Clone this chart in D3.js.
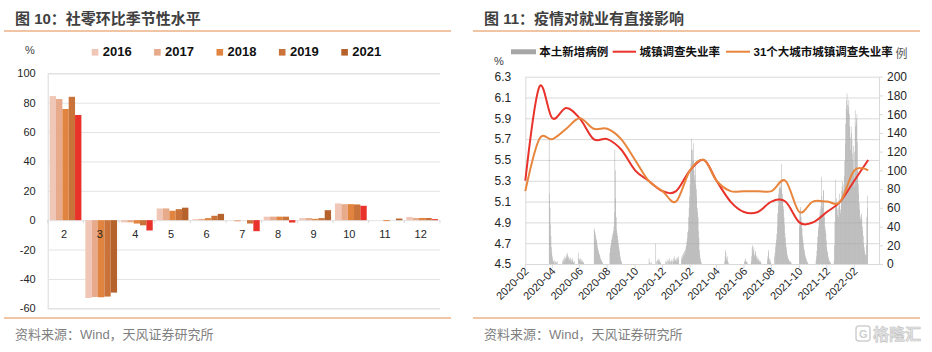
<!DOCTYPE html>
<html>
<head>
<meta charset="utf-8">
<script src="https://cdn.jsdelivr.net/npm/d3@7"></script>
<style>
  body { margin: 0; background: #fff; }
  svg text { font-family: "Liberation Sans", Arial, "Noto Sans CJK SC", sans-serif; }
</style>
</head>
<body>
<svg id="chart" width="932" height="352"></svg>
<script>
// ---------- left panel data (社零环比季节性水平) ----------
var months = ["2", "3", "4", "5", "6", "7", "8", "9", "10", "11", "12"];
var years = ["2016", "2017", "2018", "2019", "2021"];
var s2016 = [84.5, -53.0, -1.5, 8.0, 0.7, 0.0, 2.4, 1.4, 11.4, 0.0, 2.2];
var s2017 = [82.5, -52.3, -1.5, 8.0, 0.9, -0.8, 2.4, 1.4, 10.9, 0.0, 1.5];
var s2018 = [75.7, -52.5, -2.3, 6.4, 1.4, 0.0, 2.4, 0.9, 10.9, -0.6, 1.5];
var s2019 = [84.0, -52.0, -3.5, 7.5, 3.0, -2.3, 2.4, 1.4, 10.7, 0.0, 1.5];
var s2021 = [71.6, -49.3, -7.0, 8.5, 4.3, -7.5, -1.6, 6.8, 9.8, 1.1, 0.7];
var leftTicks = [-60, -40, -20, 0, 20, 40, 60, 80, 100];

// ---------- right panel data (疫情对就业有直接影响) ----------
var rateStart = "2020-01";
var urbanRate = [5.3, 6.2, 5.9, 6.0, 5.9, 5.7, 5.7, 5.6, 5.4, 5.3, 5.2, 5.2,
                 5.4, 5.5, 5.3, 5.1, 5.0, 5.0, 5.1, 5.1, 4.9, 4.9, 5.0, 5.1,
                 5.3, 5.5];
var city31Rate = [5.2, 5.7, 5.7, 5.8, 5.9, 5.8, 5.8, 5.7, 5.5, 5.3, 5.2, 5.1,
                  5.4, 5.5, 5.3, 5.2, 5.2, 5.2, 5.2, 5.3, 5.0, 5.1, 5.1, 5.1,
                  5.4, 5.4];
// daily local new cases, one run of days per wave
var caseWaves = [
  {start: "2020-02-23", v: [134, 75, 60, 42, 30, 18, 12, 8, 5, 3, 2, 4, 0, 2, 3, 0, 1, 2, 0, 3]},
  {start: "2020-03-24", v: [3, 5, 2, 6, 4, 8, 5, 7, 10, 6, 12, 9, 7, 8, 5, 6, 4, 7, 3, 5, 2, 4, 6, 3, 2, 1, 3]},
  {start: "2020-04-28", v: [12, 6, 5, 4, 6, 3, 5, 2, 4, 3, 2, 1, 2]},
  {start: "2020-06-02", v: [38, 36, 34, 31, 28, 26, 24, 20, 17, 15, 13, 11, 10, 8, 6, 5, 4, 3, 2, 1]},
  {start: "2020-07-07", v: [12, 17, 20, 22, 26, 28, 31, 33, 35, 40, 55, 122, 100, 70, 50, 37, 33, 30, 26, 22, 18, 15, 12, 8, 5, 3, 2]},
  {start: "2020-10-02", v: [6, 2, 0, 1, 0, 0, 2, 0, 0, 0, 0, 0, 0, 0, 0, 22, 3, 0, 0, 4, 5, 3, 6, 2, 4, 1, 2]},
  {start: "2020-11-08", v: [3, 0, 2, 5, 0, 3, 4, 0, 2, 6, 3, 0, 4, 2, 5, 0, 3, 6, 2, 4, 8, 3, 5, 4, 6, 2, 7, 5, 8, 4]},
  {start: "2020-12-13", v: [5, 8, 6, 10, 8, 12, 10, 14, 12, 15, 18, 20, 24, 28, 34, 36, 50, 60, 72, 85, 100, 107, 134, 122, 122,
                            110, 110, 129, 100, 90, 95, 107, 85, 72, 80, 60, 55, 50, 35, 28, 15, 10, 6, 3, 2]},
  {start: "2021-03-19", v: [3, 8, 15, 12, 6, 4, 8, 3, 2]},
  {start: "2021-05-02", v: [2, 4, 6, 3, 2, 3, 2]},
  {start: "2021-05-17", v: [3, 8, 18, 20, 12, 15, 18, 10, 8, 14, 12, 9, 6, 8, 5, 4, 6, 3, 2, 4, 2, 3, 1]},
  {start: "2021-06-22", v: [4, 8, 15, 12, 6, 3, 5, 2, 1]},
  {start: "2021-07-08", v: [8, 12, 18, 22, 26, 32, 40, 54, 62, 75, 80, 82, 85, 82, 80, 90, 107, 75, 70, 62, 58, 50, 42, 33, 28,
                            22, 18, 14, 10, 8, 6, 5, 4, 3, 2, 3, 2, 1]},
  {start: "2021-09-01", v: [40, 54, 61, 58, 50, 43, 38, 30, 26, 22, 18, 15, 12, 9, 7, 6, 4, 3, 2, 1]},
  {start: "2021-10-08", v: [4, 8, 14, 22, 29, 36, 40, 47, 52, 58, 54, 62, 93, 72, 68, 60, 79, 78, 55, 50, 40, 36, 33, 25, 18,
                            14, 12, 8, 6, 4, 3, 2, 2, 1]},
  {start: "2021-11-17", v: [3, 20, 45, 61, 90, 70, 65, 58, 52, 60, 50, 68, 75, 62, 58, 54, 70, 78, 83, 88, 80, 75, 85, 94, 110,
                            129, 150, 166, 175, 182, 170, 163, 168, 175, 160, 147, 135, 122, 147, 140, 132, 118, 111, 126, 100,
                            83, 120, 164, 147, 150, 155, 160, 130, 100, 85, 75, 65, 58, 50, 47, 52, 54, 48, 40, 35,
                            30, 22, 18, 14, 11, 10, 8, 20, 50, 73, 60]}
];
var xTickLabels = ["2020-02", "2020-04", "2020-06", "2020-08", "2020-10", "2020-12", "2021-02",
                   "2021-04", "2021-06", "2021-08", "2021-10", "2021-12", "2022-02"];
var rateTicks = [4.5, 4.7, 4.9, 5.1, 5.3, 5.5, 5.7, 5.9, 6.1, 6.3];
var caseTicks = [0, 20, 40, 60, 80, 100, 120, 140, 160, 180, 200];
var rightLegend = ["本土新增病例", "城镇调查失业率", "31个大城市城镇调查失业率"];

var svg = d3.select("#chart");
var gridColor = "#d9d9d9";
var orangeRule = "#e38b48";

// headers and footers
function panelFrame(x0, x1, title) {
  svg.append("text").attr("x", x0 + 11).attr("y", 23.5)
    .attr("font-size", 15).attr("font-weight", "bold").attr("fill", "#404040").text(title);
  svg.append("line").attr("x1", x0).attr("x2", x1).attr("y1", 31).attr("y2", 31)
    .attr("stroke", orangeRule).attr("stroke-width", 1.2);
  svg.append("line").attr("x1", x0).attr("x2", x1).attr("y1", 318).attr("y2", 318)
    .attr("stroke", orangeRule).attr("stroke-width", 1.2);
  svg.append("text").attr("x", x0 + 11).attr("y", 338.5)
    .attr("font-size", 13).attr("fill", "#7f7f7f").text("资料来源：Wind，天风证券研究所");
}
panelFrame(4, 451, "图 10：社零环比季节性水平");
panelFrame(473, 920, "图 11：疫情对就业有直接影响");

// ================= left panel =================
var series = [s2016, s2017, s2018, s2019, s2021];
var barColors = ["#f0c7b7", "#e7aa8b", "#e0843f", "#c9733a", "#b5622c"];
var weakColor = "#e8322a"; // 2021 below 2019

var x0 = d3.scaleBand().domain(months).range([47.7, 440]);
var x1 = d3.scaleBand().domain(years).range([0, x0.bandwidth()]).paddingOuter(0.31);
var yL = d3.scaleLinear().domain([-60, 100]).range([308.3, 73.3]);

var lg = svg.append("g");
lg.append("g").attr("transform", "translate(47.7,0)")
  .call(d3.axisLeft(yL).tickValues(leftTicks).tickSize(-(440 - 47.7)).tickPadding(12)
    .tickFormat(function (d) { return String(d); }))
  .call(function (g) {
    g.select(".domain").attr("stroke", gridColor);
    g.selectAll(".tick line").attr("stroke", "#e3e3e3");
    g.selectAll(".tick text").attr("font-size", 11).attr("fill", "#262626")
      .attr("font-family", "Liberation Sans, Arial, sans-serif");
  });

// small ticks under the zero line
lg.selectAll("line.cat").data(months.concat(["end"])).enter().append("line")
  .attr("x1", function (d) { return d === "end" ? 440 : x0(d); })
  .attr("x2", function (d) { return d === "end" ? 440 : x0(d); })
  .attr("y1", yL(0)).attr("y2", yL(0) + 3).attr("stroke", gridColor);

var groups = lg.selectAll("g.month").data(months).enter().append("g")
  .attr("transform", function (m) { return "translate(" + x0(m) + ",0)"; });
groups.selectAll("rect").data(function (m, i) {
  return years.map(function (yr, k) { return {yr: yr, k: k, i: i, v: series[k][i]}; });
}).enter().append("rect")
  .attr("x", function (d) { return x1(d.yr); })
  .attr("width", x1.bandwidth())
  .attr("y", function (d) { return yL(Math.max(0, d.v)); })
  .attr("height", function (d) { return Math.abs(yL(d.v) - yL(0)); })
  .attr("fill", function (d) {
    if (d.k === 4 && s2021[d.i] < s2019[d.i]) return weakColor;
    return barColors[d.k];
  });

groups.append("text").attr("x", x0.bandwidth() / 2 - 1.5).attr("y", 237.5)
  .attr("text-anchor", "middle").attr("font-size", 11).attr("fill", "#262626")
  .text(function (m) { return m; });

lg.append("text").attr("x", 25).attr("y", 54).attr("font-size", 11).attr("fill", "#404040").text("%");
var leg = lg.selectAll("g.leg").data(years).enter().append("g")
  .attr("transform", function (d, i) { return "translate(" + (91.7 + i * 62.4) + ",0)"; });
leg.append("rect").attr("y", 49).attr("width", 6.6).attr("height", 6.6)
  .attr("fill", function (d, i) { return barColors[i]; });
leg.append("text").attr("x", 11).attr("y", 56).attr("font-size", 13).attr("font-weight", "bold")
  .attr("fill", "#111").text(function (d) { return d; });

// ================= right panel =================
var parseDay = d3.timeParse("%Y-%m-%d");
var t0 = d3.timeParse("%Y-%m")(rateStart);
var x = d3.scaleTime().domain([t0, parseDay("2022-02-25")]).range([525.3, 879]);
var yRate = d3.scaleLinear().domain([4.5, 6.3]).range([264, 76.7]);
var yCase = d3.scaleLinear().domain([0, 200]).range([264, 76.7]);

var rg = svg.append("g");
rg.append("g").attr("transform", "translate(525.3,0)")
  .call(d3.axisLeft(yRate).tickValues(rateTicks).tickFormat(d3.format(".1f"))
    .tickSizeInner(-(879 - 525.3)).tickSizeOuter(0).tickPadding(14))
  .call(function (g) {
    g.select(".domain").attr("stroke", gridColor);
    g.selectAll(".tick line").attr("stroke", gridColor);
    g.selectAll(".tick text").attr("font-size", 12).attr("fill", "#262626")
      .attr("font-family", "Liberation Sans, Arial, sans-serif");
  });
rg.append("g").attr("transform", "translate(879,0)")
  .call(d3.axisRight(yCase).tickValues(caseTicks).tickSizeInner(4).tickSizeOuter(0).tickPadding(4))
  .call(function (g) {
    g.select(".domain").attr("stroke", gridColor);
    g.selectAll(".tick line").attr("stroke", gridColor);
    g.selectAll(".tick text").attr("font-size", 12).attr("fill", "#262626")
      .attr("font-family", "Liberation Sans, Arial, sans-serif");
  });

// x ticks and rotated labels
var tickDates = xTickLabels.map(function (d, i) { return d3.timeMonth.offset(t0, 2 * i); });
var xt = rg.selectAll("g.xt").data(tickDates).enter().append("g")
  .attr("transform", function (d) { return "translate(" + x(d) + ",264)"; });
xt.append("line").attr("y2", 4).attr("stroke", gridColor);
xt.append("text").attr("transform", "translate(4,8) rotate(-45)")
  .attr("text-anchor", "end").attr("font-size", 11).attr("fill", "#262626")
  .text(function (d, i) { return xTickLabels[i]; });

// case bars
var caseDays = [];
caseWaves.forEach(function (w) {
  var s = parseDay(w.start);
  w.v.forEach(function (val, i) {
    if (val > 0) caseDays.push({date: d3.timeDay.offset(s, i), value: val});
  });
});
var dayW = x(d3.timeDay.offset(t0, 1)) - x(t0);
rg.append("g").selectAll("rect").data(caseDays).enter().append("rect")
  .attr("x", function (d) { return x(d.date) - dayW / 2; })
  .attr("width", dayW)
  .attr("y", function (d) { return yCase(d.value); })
  .attr("height", function (d) { return yCase(0) - yCase(d.value); })
  .attr("fill", "#a6a6a6");

// unemployment lines
function rateLine(vals) {
  return d3.line()
    .x(function (d, i) { return x(d3.timeMonth.offset(t0, i)); })
    .y(function (d) { return yRate(d); })
    .curve(d3.curveCardinal.tension(0))(vals);
}
rg.append("path").attr("d", rateLine(urbanRate)).attr("fill", "none")
  .attr("stroke", "#e8322a").attr("stroke-width", 2);
rg.append("path").attr("d", rateLine(city31Rate)).attr("fill", "none")
  .attr("stroke", "#e8853d").attr("stroke-width", 2);

// legend + axis titles
rg.append("text").attr("x", 494).attr("y", 65).attr("font-size", 11).attr("fill", "#404040").text("%");
rg.append("text").attr("x", 895.5).attr("y", 58).attr("font-size", 12).attr("fill", "#595959").text("例");
rg.append("rect").attr("x", 511).attr("y", 49.3).attr("width", 25).attr("height", 5).attr("fill", "#a6a6a6");
rg.append("line").attr("x1", 612.7).attr("x2", 636).attr("y1", 51.7).attr("y2", 51.7)
  .attr("stroke", "#e8322a").attr("stroke-width", 2);
rg.append("line").attr("x1", 726).attr("x2", 750).attr("y1", 51.7).attr("y2", 51.7)
  .attr("stroke", "#e8853d").attr("stroke-width", 2);
[539.3, 639.5, 753.5].forEach(function (lx, i) {
  rg.append("text").attr("x", lx).attr("y", 55.5).attr("font-size", 11.5).attr("font-weight", "bold")
    .attr("fill", "#111").text(rightLegend[i]);
});

// watermark
var wm = svg.append("g").attr("transform", "translate(856,326)");
wm.append("rect").attr("width", 14).attr("height", 15).attr("rx", 3)
  .attr("fill", "none").attr("stroke", "#cfcfcf").attr("stroke-width", 1.5);
wm.append("text").attr("x", 3).attr("y", 12).attr("font-size", 11).attr("font-weight", "bold")
  .attr("fill", "#cfcfcf").text("G");
wm.append("text").attr("x", 17).attr("y", 14).attr("font-size", 16).attr("font-weight", "bold")
  .attr("fill", "#e4e4e4").attr("stroke", "#c4c4c4").attr("stroke-width", 0.6).text("格隆汇");
</script>
</body>
</html>
